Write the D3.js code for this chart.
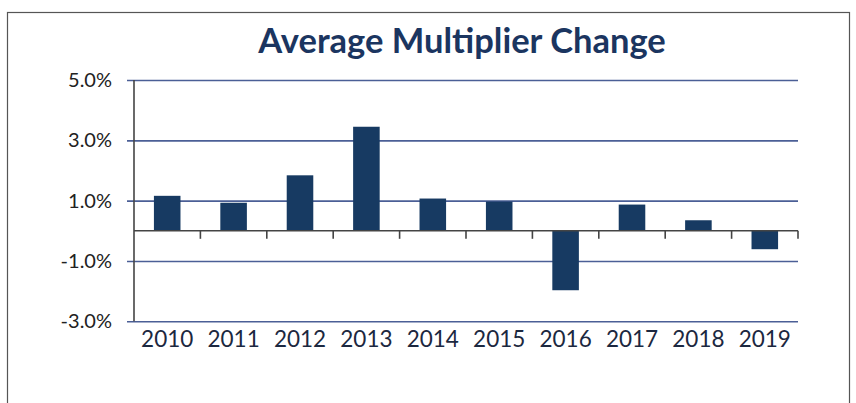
<!DOCTYPE html>
<html>
<head>
<meta charset="utf-8">
<script src="https://cdn.jsdelivr.net/npm/d3@7"></script>
<style>
  body { margin: 0; background: #fff; }
  svg { display: block; }
</style>
</head>
<body>
<svg id="area" width="856" height="403"></svg>
<script>
// data
let years = ["2010", "2011", "2012", "2013", "2014", "2015", "2016", "2017", "2018", "2019"];
let changes = [1.16, 0.93, 1.84, 3.45, 1.07, 0.97, -1.97, 0.87, 0.35, -0.61];
let yTicks = [5, 3, 1, -1, -3];

let data = years.map((y, i) => ({ year: y, value: changes[i] }));

let svg = d3.select("#area");

// outer frame
svg.append("rect")
    .attr("x", 7.5).attr("y", 12.5)
    .attr("width", 842).attr("height", 400)
    .style("fill", "none")
    .style("stroke", "#555")
    .style("stroke-width", "1.2px");

svg.append("text")
    .attr("x", 462).attr("y", 53)
    .attr("text-anchor", "middle")
    .style("font-family", "Lato, sans-serif")
    .style("font-weight", "bold")
    .style("font-size", "34.5px")
    .style("fill", "#1b3560")
    .text("Average Multiplier Change");

let xScale = d3.scaleBand()
    .domain(years)
    .range([134, 798])
    .paddingInner(0.6)
    .paddingOuter(0.3);

let yScale = d3.scaleLinear()
    .domain([-3, 5])
    .range([321.3, 80]);

// gridlines
let leftAxis = d3.axisLeft(yScale)
    .tickValues(yTicks)
    .tickSize(-(798 - 127))
    .tickFormat(d => d.toFixed(1) + "%");

let gy = svg.append("g")
    .attr("transform", "translate(127,0)")
    .call(leftAxis);
gy.select(".domain").remove();
gy.selectAll(".tick line")
    .style("stroke", "#4b5f96")
    .style("stroke-width", "1.6px");
gy.selectAll(".tick text")
    .attr("x", -15)
    .style("font-family", "Lato, sans-serif")
    .style("font-size", "20px")
    .style("fill", "#222");

// vertical axis line
svg.append("line")
    .attr("x1", 134).attr("x2", 134)
    .attr("y1", yScale(5)).attr("y2", yScale(-3))
    .style("stroke", "#444")
    .style("stroke-width", "1.6px");

// bars
svg.selectAll(".bar")
    .data(data)
    .enter().append("rect")
    .attr("class", "bar")
    .attr("x", d => xScale(d.year))
    .attr("width", xScale.bandwidth())
    .attr("y", d => yScale(Math.max(0, d.value)))
    .attr("height", d => Math.abs(yScale(d.value) - yScale(0)))
    .style("fill", "#173a62");

// zero axis with category boundary ticks
let step = xScale.step();
let bounds = d3.range(1, years.length + 1).map(i => 134 + i * step);
svg.append("line")
    .attr("x1", 134).attr("x2", 798)
    .attr("y1", yScale(0)).attr("y2", yScale(0))
    .style("stroke", "#444")
    .style("stroke-width", "1.6px");
svg.selectAll(".ctick")
    .data(bounds)
    .enter().append("line")
    .attr("class", "ctick")
    .attr("x1", d => d).attr("x2", d => d)
    .attr("y1", yScale(0)).attr("y2", yScale(0) + 8)
    .style("stroke", "#444")
    .style("stroke-width", "1.6px");

// year labels
svg.selectAll(".ylabel")
    .data(years)
    .enter().append("text")
    .attr("class", "ylabel")
    .attr("x", d => xScale(d) + xScale.bandwidth() / 2)
    .attr("y", 347)
    .attr("text-anchor", "middle")
    .style("font-family", "Lato, sans-serif")
    .style("font-size", "22.5px")
    .style("fill", "#1c2840")
    .text(d => d);
</script>
</body>
</html>
